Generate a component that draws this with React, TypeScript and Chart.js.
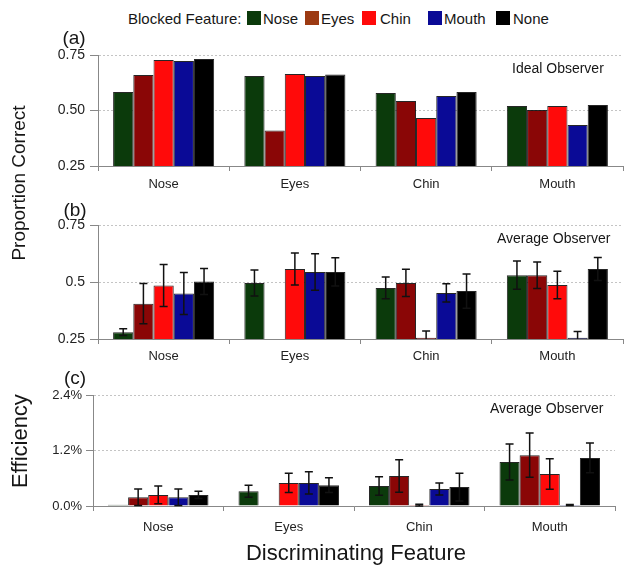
import React, { useEffect, useRef } from "react";
import { Chart, registerables } from "chart.js";

Chart.register(...registerables);

// ---------- data ----------
const CATEGORIES = ["Nose", "Eyes", "Chin", "Mouth"]; // discriminating feature
const SERIES = ["Nose", "Eyes", "Chin", "Mouth", "None"]; // blocked feature
const BAR_COLORS = ["#0b3a0b", "#8a0606", "#ff0a0a", "#0a0a96", "#000000"];
const LEGEND_COLORS = ["#0b3a0b", "#9c3a12", "#ff0a0a", "#0a0a96", "#000000"];

// (a) Ideal observer, proportion correct
const IDEAL_NOSE = [0.583, 0.655, 0.579, 0.52];
const IDEAL_EYES = [0.66, 0.41, 0.543, 0.502];
const IDEAL_CHIN = [0.728, 0.664, 0.466, 0.52];
const IDEAL_MOUTH = [0.723, 0.655, 0.565, 0.435];
const IDEAL_NONE = [0.732, 0.662, 0.583, 0.525];

// (b) Average observer, proportion correct (+/- error)
const AVG_NOSE = [0.28, 0.496, 0.474, 0.53];
const AVG_NOSE_ERR = [0.015, 0.057, 0.048, 0.062];
const AVG_EYES = [0.405, null, 0.496, 0.53];
const AVG_EYES_ERR = [0.088, null, 0.06, 0.058];
const AVG_CHIN = [0.485, 0.557, 0.255, 0.487];
const AVG_CHIN_ERR = [0.092, 0.07, 0.03, 0.06];
const AVG_MOUTH = [0.45, 0.544, 0.452, 0.255];
const AVG_MOUTH_ERR = [0.092, 0.08, 0.04, 0.028];
const AVG_NONE = [0.502, 0.544, 0.46, 0.557];
const AVG_NONE_ERR = [0.057, 0.062, 0.075, 0.05];

// (c) Average observer, efficiency in % (+/- error)
const EFF_NOSE = [0.025, 0.32, 0.43, 0.95];
const EFF_NOSE_ERR = [null, 0.13, 0.2, 0.39];
const EFF_EYES = [0.19, null, 0.65, 1.1];
const EFF_EYES_ERR = [0.18, null, 0.35, 0.48];
const EFF_CHIN = [0.24, 0.5, 0.02, 0.69];
const EFF_CHIN_ERR = [0.19, 0.21, 0.02, 0.33];
const EFF_MOUTH = [0.19, 0.5, 0.37, 0.02];
const EFF_MOUTH_ERR = [0.18, 0.24, 0.13, 0.01];
const EFF_NONE = [0.24, 0.45, 0.41, 1.04];
const EFF_NONE_ERR = [0.08, 0.16, 0.3, 0.32];

const FONT = '"Liberation Sans", Arial, Helvetica, sans-serif';
Chart.defaults.font.family = FONT;

const errorBarPlugin = {
  id: "errorBars",
  afterDatasetsDraw(chart: any) {
    const ctx = chart.ctx;
    const yScale = chart.scales.y;
    chart.data.datasets.forEach((ds: any, di: number) => {
      const errs = ds.errors;
      if (!errs) return;
      const meta = chart.getDatasetMeta(di);
      meta.data.forEach((bar: any, i: number) => {
        const v = ds.data[i];
        const e = errs[i];
        if (v == null || e == null) return;
        const x = bar.x;
        const yTop = yScale.getPixelForValue(v + e);
        const lowVal = v - e;
        const clipped = lowVal < yScale.min;
        const yBot = yScale.getPixelForValue(clipped ? yScale.min : lowVal);
        ctx.save();
        ctx.strokeStyle = "#111";
        ctx.lineWidth = 1.5;
        ctx.beginPath();
        ctx.moveTo(x, yTop);
        ctx.lineTo(x, yBot);
        ctx.moveTo(x - 4, yTop);
        ctx.lineTo(x + 4, yTop);
        if (!clipped) {
          ctx.moveTo(x - 4, yBot);
          ctx.lineTo(x + 4, yBot);
        }
        ctx.stroke();
        ctx.restore();
      });
    });
  },
};

type PanelProps = {
  top: number; // canvas top on page
  height: number;
  axisX: number;
  rightPad: number;
  xAxisHeight: number;
  xLabelPad: number;
  values: (number | null)[][];
  errors?: (number | null)[][];
  min: number;
  max: number;
  step: number;
  fmt: (v: number) => string;
  tickFont: number;
  yTickLen: number;
  yTickPad: number;
};

function Panel(p: PanelProps) {
  const ref = useRef<HTMLCanvasElement>(null);
  useEffect(() => {
    if (!ref.current) return;
    const chart = new Chart(ref.current, {
      type: "bar",
      data: {
        labels: CATEGORIES,
        datasets: SERIES.map((s, i) => ({
          label: s,
          data: p.values[i] as any,
          errors: p.errors ? p.errors[i] : undefined,
          backgroundColor: BAR_COLORS[i],
          borderColor: "rgba(0,0,0,0.85)",
          borderWidth: 1,
          barPercentage: 1,
          categoryPercentage: 0.77,
        })) as any,
      },
      options: {
        responsive: false,
        animation: false,
        layout: { padding: { top: 15, left: 0, right: p.rightPad, bottom: 0 } },
        plugins: { legend: { display: false }, tooltip: { enabled: false } },
        scales: {
          x: {
            type: "category",
            offset: true,
            afterFit: (s: any) => {
              s.height = p.xAxisHeight;
            },
            grid: {
              offset: true,
              drawOnChartArea: false,
              drawTicks: true,
              tickLength: 5,
              tickColor: "#888",
              color: "#888",
            },
            border: { color: "#888", width: 1 },
            ticks: { color: "#222", font: { size: 13 }, padding: p.xLabelPad, maxRotation: 0 },
          },
          y: {
            type: "linear",
            min: p.min,
            max: p.max,
            afterFit: (s: any) => {
              s.width = p.axisX;
            },
            grid: {
              color: "#c4c4c4",
              lineWidth: 1,
              drawTicks: true,
              tickLength: p.yTickLen,
              tickColor: "#888",
            },
            border: { color: "#888", width: 1, dash: [2, 2] },
            ticks: {
              stepSize: p.step,
              color: "#222",
              font: { size: p.tickFont },
              padding: p.yTickPad,
              callback: (v: any) => p.fmt(Number(v)),
            },
          },
        },
      } as any,
      plugins: [errorBarPlugin],
    });
    return () => chart.destroy();
  }, []);
  return (
    <canvas
      ref={ref}
      width={635}
      height={p.height}
      style={{ position: "absolute", left: 0, top: p.top, width: 635, height: p.height }}
    />
  );
}

const txt = (extra: React.CSSProperties): React.CSSProperties => ({
  position: "absolute",
  fontFamily: FONT,
  color: "#161616",
  whiteSpace: "nowrap",
  lineHeight: 1,
  ...extra,
});

export default function App() {
  const legendPos = [
    [247, 263],
    [305, 321],
    [362, 380],
    [428, 444],
    [496, 513],
  ];
  return (
    <div
      style={{
        position: "absolute",
        left: 0,
        top: 0,
        width: 635,
        height: 570,
        background: "#fff",
        overflow: "hidden",
      }}
    >
      {/* legend */}
      <div style={txt({ left: 128, top: 18, fontSize: 15, transform: "translateY(-50%)" })}>
        Blocked Feature:
      </div>
      {SERIES.map((s, i) => (
        <React.Fragment key={s}>
          <div
            style={{
              position: "absolute",
              left: legendPos[i][0],
              top: 11,
              width: 14,
              height: 14,
              background: LEGEND_COLORS[i],
            }}
          />
          <div style={txt({ left: legendPos[i][1], top: 18, fontSize: 15, transform: "translateY(-50%)" })}>
            {s}
          </div>
        </React.Fragment>
      ))}

      <Panel
        top={40}
        height={161}
        axisX={98}
        rightPad={12}
        xAxisHeight={35}
        xLabelPad={6}
        values={[IDEAL_NOSE, IDEAL_EYES, IDEAL_CHIN, IDEAL_MOUTH, IDEAL_NONE]}
        min={0.25}
        max={0.75}
        step={0.25}
        fmt={(v) => v.toFixed(2)}
        tickFont={14}
        yTickLen={8}
        yTickPad={5}
      />
      <Panel
        top={210}
        height={164}
        axisX={98}
        rightPad={12}
        xAxisHeight={35}
        xLabelPad={5}
        values={[AVG_NOSE, AVG_EYES, AVG_CHIN, AVG_MOUTH, AVG_NONE]}
        errors={[AVG_NOSE_ERR, AVG_EYES_ERR, AVG_CHIN_ERR, AVG_MOUTH_ERR, AVG_NONE_ERR]}
        min={0.25}
        max={0.75}
        step={0.25}
        fmt={(v) => String(Math.round(v * 100) / 100)}
        tickFont={14}
        yTickLen={8}
        yTickPad={5}
      />
      <Panel
        top={380}
        height={166}
        axisX={93}
        rightPad={20}
        xAxisHeight={40}
        xLabelPad={9}
        values={[EFF_NOSE, EFF_EYES, EFF_CHIN, EFF_MOUTH, EFF_NONE]}
        errors={[EFF_NOSE_ERR, EFF_EYES_ERR, EFF_CHIN_ERR, EFF_MOUTH_ERR, EFF_NONE_ERR]}
        min={0}
        max={2.4}
        step={1.2}
        fmt={(v) => v.toFixed(1) + "%"}
        tickFont={13}
        yTickLen={7}
        yTickPad={4}
      />

      {/* panel labels */}
      <div style={txt({ left: 74, top: 37, fontSize: 19, transform: "translate(-50%,-50%)" })}>(a)</div>
      <div style={txt({ left: 75, top: 209, fontSize: 19, transform: "translate(-50%,-50%)" })}>(b)</div>
      <div style={txt({ left: 75, top: 377, fontSize: 19, transform: "translate(-50%,-50%)" })}>(c)</div>

      {/* in-plot notes */}
      <div style={txt({ left: 512, top: 68, fontSize: 14, transform: "translateY(-50%)" })}>Ideal Observer</div>
      <div style={txt({ left: 497, top: 238, fontSize: 14, transform: "translateY(-50%)" })}>Average Observer</div>
      <div style={txt({ left: 490, top: 408, fontSize: 14, transform: "translateY(-50%)" })}>Average Observer</div>

      {/* axis titles */}
      <div style={txt({ left: 18, top: 183, fontSize: 19, transform: "translate(-50%,-50%) rotate(-90deg)" })}>
        Proportion Correct
      </div>
      <div style={txt({ left: 20, top: 441, fontSize: 22, transform: "translate(-50%,-50%) rotate(-90deg)" })}>
        Efficiency
      </div>
      <div style={txt({ left: 356, top: 553, fontSize: 22, transform: "translate(-50%,-50%)" })}>
        Discriminating Feature
      </div>
    </div>
  );
}
